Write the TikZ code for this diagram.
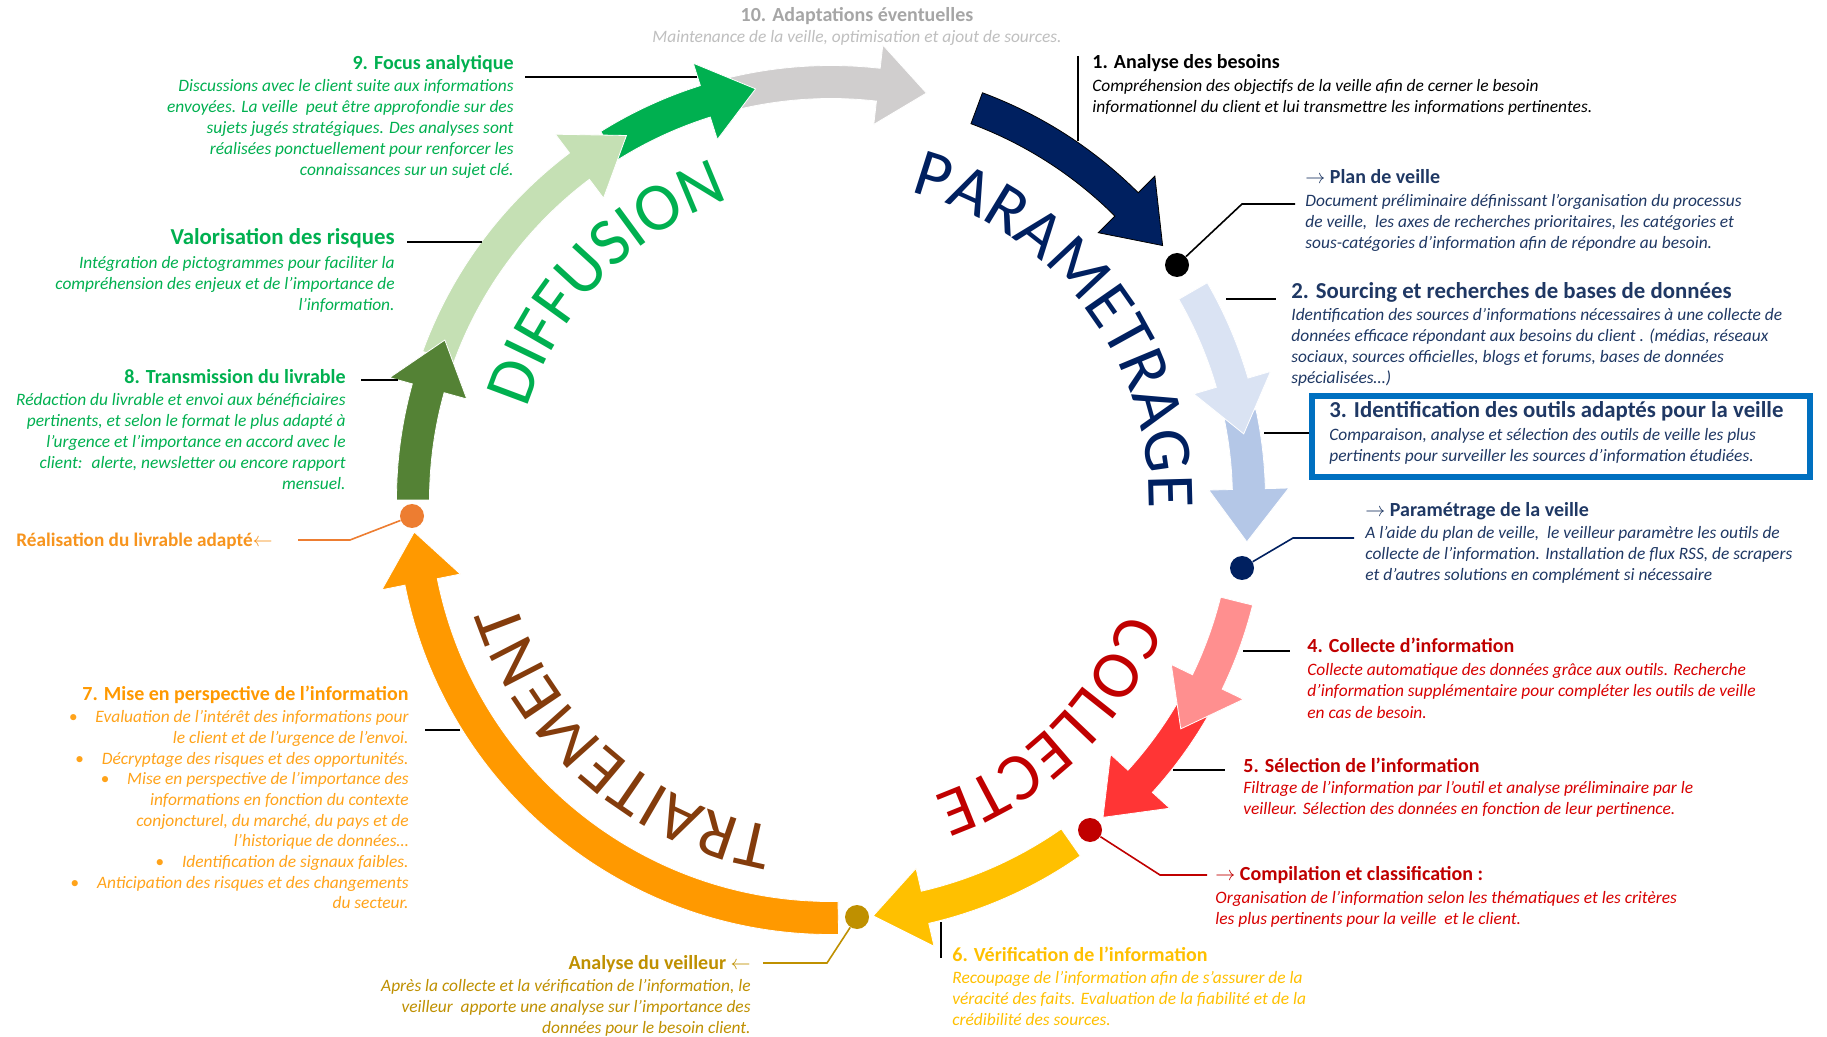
\documentclass[tikz,border=0pt]{standalone}
\usepackage{fontspec}
\setmainfont{Carlito}
\usetikzlibrary{decorations.text}

\definecolor{parnavy}{HTML}{002060}
\definecolor{parlight}{HTML}{DAE3F3}
\definecolor{parmid}{HTML}{B4C7E7}
\definecolor{colpink}{HTML}{FF8F8F}
\definecolor{colred}{HTML}{FF3535}
\definecolor{colyellow}{HTML}{FFC000}
\definecolor{traorange}{HTML}{FF9900}
\definecolor{difdark}{HTML}{548235}
\definecolor{diflight}{HTML}{C5E0B4}
\definecolor{difgreen}{HTML}{00B050}
\definecolor{adagray}{HTML}{D0CECE}
\definecolor{wordbrown}{HTML}{843C0C}
\definecolor{wordred}{HTML}{C00000}
\definecolor{txtnavy}{HTML}{1F3864}
\definecolor{txtred}{HTML}{C00000}
\definecolor{txtredlt}{HTML}{D80000}
\definecolor{txtgold}{HTML}{BF9000}
\definecolor{txtyellow}{HTML}{FFC000}
\definecolor{txtorange}{HTML}{FF9900}
\definecolor{txtorangelt}{HTML}{FFA31A}
\definecolor{txtreal}{HTML}{F7941D}
\definecolor{dotorange}{HTML}{ED7D31}
\definecolor{txtgreen}{HTML}{00B050}
\definecolor{txtgray}{HTML}{A6A6A6}
\definecolor{txtgraylt}{HTML}{BFBFBF}
\definecolor{boxblue}{HTML}{0070C0}

\newcommand\bodyfont{\fontsize{8.7}{10.5}\selectfont\itshape}
\newcommand\headfont{\fontsize{10}{12}\selectfont\bfseries}
\newcommand\bigheadfont{\fontsize{11.4}{13}\selectfont\bfseries}
\newcommand\wordfont{\fontsize{34}{34}\selectfont}

\tikzset{
  pics/ringarrow/.style args={#1/#2/#3}{code={%
      % shaft along the ring, then the head
      \filldraw (#1:434.5) arc[start angle=#1, end angle=#2, radius=434.5]
        -- (#2:458) -- (#3:418) -- (#2:378) -- (#2:401.5)
        arc[start angle=#2, end angle=#1, radius=401.5] -- cycle;
  }},
  ringdot/.style={circle, inner sep=0pt, minimum size=12pt},
  leader/.style={line width=0.8pt},
  wordpath/.style={decorate, decoration={text along path, text align=center}},
  itemhead/.style={font=\headfont, inner sep=0pt},
  bighead/.style={font=\bigheadfont, inner sep=0pt},
  itembody/.style={font=\bodyfont, inner sep=0pt},
}

\begin{document}
\begin{tikzpicture}[x=0.5pt, y=-0.5pt]
    \useasboundingbox (0,0) rectangle (1827,1037);
    \fill[white] (0,0) rectangle (1827,1037);

    % centre of the cycle
    \coordinate (cc) at (831,500);

    % arrows of the cycle (angles go clockwise on the page)
    \pic[fill=adagray, draw=white] at (cc) {ringarrow={256/276.5/283.2}};
    \pic[fill=difgreen, draw=white] at (cc) {ringarrow={238/252.5/259.6}};
    \pic[fill=diflight, draw=white] at (cc) {ringarrow={200/233/240.7}};
    \pic[fill=difdark, draw=white] at (cc) {ringarrow={180/195.5/202.5}};
    \pic[fill=traorange, draw=white] at (cc) {ringarrow={89/168.7/175.6}};
    \pic[fill=colyellow, draw=white] at (cc) {ringarrow={55/77/84.2}};
    \pic[fill=colred, draw=white] at (cc) {ringarrow={30/42.3/49.4}};
    \pic[fill=colpink, draw=white] at (cc) {ringarrow={14/25.8/33.2}};
    \pic[fill=parmid, draw=white] at (cc) {ringarrow={-12/-1.5/5.75}};
    \pic[fill=parlight, draw=white] at (cc) {ringarrow={-30/-16.3/-9.1}};
    \pic[fill=parnavy, draw=black] at (cc) {ringarrow={-69.6/-45/-37.5}};

    % the four phases
    \path[wordpath, decoration={text={|\wordfont\color{parnavy}|PARAMETRAGE}}] ([shift={(-97:318)}]cc) arc[start angle=-97, end angle=23, radius=318];
    \path[wordpath, decoration={text={|\wordfont\color{wordred}|COLLECTE}}] ([shift={(-14:314)}]cc) arc[start angle=-14, end angle=106, radius=314];
    \path[wordpath, decoration={text={|\wordfont\color{wordbrown}|TRAITEMENT}}] ([shift={(71:332)}]cc) arc[start angle=71, end angle=191, radius=332];
    \path[wordpath, decoration={text={|\wordfont\color{difgreen}|DIFFUSION}}] ([shift={(164:317)}]cc) arc[start angle=164, end angle=284, radius=317];

    % milestones on the ring
    \node[ringdot, fill=black] (dplan) at (1177,265) {};
    \node[ringdot, fill=parnavy] (dparam) at (1242,568) {};
    \node[ringdot, fill=txtred] (dcomp) at (1090,830) {};
    \node[ringdot, fill=txtgold] (dana) at (857,917) {};
    \node[ringdot, fill=dotorange] (dreal) at (412,516) {};

    % leader lines
    \coordinate (l1a) at (1078,56);   \coordinate (l1b) at (1078,141);
    \coordinate (kplan) at (1242,204); \coordinate (eplan) at (1295,204);
    \coordinate (l2a) at (1226,299);  \coordinate (l2b) at (1276,299);
    \coordinate (l3a) at (1264,433);  \coordinate (l3b) at (1309,433);
    \coordinate (kparam) at (1293,538); \coordinate (eparam) at (1354,538);
    \coordinate (l4a) at (1243,651);  \coordinate (l4b) at (1290,651);
    \coordinate (l5a) at (1173,770);  \coordinate (l5b) at (1225,770);
    \coordinate (kcomp) at (1160,875); \coordinate (ecomp) at (1207,875);
    \coordinate (l6a) at (941,922);   \coordinate (l6b) at (941,958);
    \coordinate (kana) at (827,963);  \coordinate (eana) at (763,963);
    \coordinate (l7a) at (425,730);   \coordinate (l7b) at (460,730);
    \coordinate (kreal) at (350,540); \coordinate (ereal) at (298,540);
    \coordinate (l8a) at (361,380);   \coordinate (l8b) at (398,380);
    \coordinate (lva) at (407,242);   \coordinate (lvb) at (482,242);
    \coordinate (l9a) at (525,77);    \coordinate (l9b) at (697,77);
    \draw[leader] (l1a) -- (l1b);
    \draw[leader] (dplan) -- (kplan) -- (eplan);
    \draw[leader] (l2a) -- (l2b);
    \draw[leader] (l3a) -- (l3b);
    \draw[leader, parnavy] (dparam) -- (kparam) -- (eparam);
    \draw[leader] (l4a) -- (l4b);
    \draw[leader] (l5a) -- (l5b);
    \draw[leader, txtred] (dcomp) -- (kcomp) -- (ecomp);
    \draw[leader] (l6a) -- (l6b);
    \draw[leader, txtgold] (dana) -- (kana) -- (eana);
    \draw[leader] (l7a) -- (l7b);
    \draw[leader, dotorange] (dreal) -- (kreal) -- (ereal);
    \draw[leader] (l8a) -- (l8b);
    \draw[leader] (lva) -- (lvb);
    \draw[leader] (l9a) -- (l9b);

    % frame of step 3
    \coordinate (boxnw) at (1312,396);
    \coordinate (boxse) at (1810,477);
    \draw[boxblue, line width=3pt] (boxnw) rectangle (boxse);

    % add labels (body blocks sit on the baseline of their last line)
    \node[itemhead, txtgray, anchor=base] (t10) at (857,21.5) {10. Adaptations éventuelles};
    \node[itembody, txtgraylt, anchor=base] (b10) at (857,43) {Maintenance de la veille, optimisation et ajout de sources.};

    \node[itemhead, black, anchor=base west] (t1) at (1092,68.4) {1. Analyse des besoins};
    \node[itembody, black, anchor=base west, align=left] (b1) at (1092,112.2) {Compréhension des objectifs de la veille afin de cerner le besoin\\
      informationnel du client et lui transmettre les informations pertinentes.};

    \node[itemhead, txtnavy, anchor=base west] (tplan) at (1305,183.7) {$\rightarrow$ Plan de veille};
    \node[itembody, txtnavy, anchor=base west, align=left] (bplan) at (1305,248.5) {Document préliminaire définissant l’organisation du processus\\
      de veille,~ les axes de recherches prioritaires, les catégories et\\
      sous-catégories d’information afin de répondre au besoin.};

    \node[bighead, txtnavy, anchor=base west] (t2) at (1291,298.7) {2. Sourcing et recherches de bases de données};
    \node[itembody, txtnavy, anchor=base west, align=left] (b2) at (1291,383.7) {Identification des sources d’informations nécessaires à une collecte de\\
      données efficace répondant aux besoins du client . (médias, réseaux\\
      sociaux, sources officielles, blogs et forums, bases de données\\
      spécialisées…)};

    \node[bighead, txtnavy, anchor=base west] (t3) at (1329,417.5) {3. Identification des outils adaptés pour la veille};
    \node[itembody, txtnavy, anchor=base west, align=left] (b3) at (1329,461.7) {Comparaison, analyse et sélection des outils de veille les plus\\
      pertinents pour surveiller les sources d'information étudiées.};

    \node[itemhead, txtnavy, anchor=base west] (tparam) at (1365,517) {$\rightarrow$ Paramétrage de la veille};
    \node[itembody, txtnavy, anchor=base west, align=left] (bparam) at (1365,580.6) {A l'aide du plan de veille,~ le veilleur paramètre les outils de\\
      collecte de l’information. Installation de flux RSS, de scrapers\\
      et d’autres solutions en complément si nécessaire};

    \node[itemhead, txtred, anchor=base west] (t4) at (1307,653) {4. Collecte d’information};
    \node[itembody, txtredlt, anchor=base west, align=left] (b4) at (1307,718) {Collecte automatique des données grâce aux outils. Recherche\\
      d’information supplémentaire pour compléter les outils de veille\\
      en cas de besoin.};

    \node[itemhead, txtred, anchor=base west] (t5) at (1243,772) {5. Sélection de l’information};
    \node[itembody, txtredlt, anchor=base west, align=left] (b5) at (1243,814.7) {Filtrage de l’information par l’outil et analyse préliminaire par le\\
      veilleur. Sélection des données en fonction de leur pertinence.};

    \node[itemhead, txtred, anchor=base west] (tcomp) at (1215,880.5) {$\rightarrow$ Compilation et classification :};
    \node[itembody, txtredlt, anchor=base west, align=left] (bcomp) at (1215,924.2) {Organisation de l’information selon les thématiques et les critères\\
      les plus pertinents pour la veille~ et le client.};

    \node[itemhead, txtyellow, anchor=base west] (t6) at (952,961) {6. Vérification de l’information};
    \node[itembody, txtyellow, anchor=base west, align=left] (b6) at (952,1025.6) {Recoupage de l’information afin de s’assurer de la\\
      véracité des faits. Evaluation de la fiabilité et de la\\
      crédibilité des sources.};

    \node[itemhead, txtgold, anchor=base east] (tana) at (751,969) {Analyse du veilleur $\leftarrow$};
    \node[itembody, txtgold, anchor=base east, align=right] (bana) at (751,1033.8) {Après la collecte et la vérification de l’information, le\\
      veilleur~ apporte une analyse sur l’importance des\\
      données pour le besoin client.};

    \node[itemhead, txtorange, anchor=base east] (t7) at (409,700) {7. Mise en perspective de l’information};
    \node[itembody, txtorangelt, anchor=base east, align=right, font=\fontsize{8.7}{10.35}\selectfont\itshape] (b7) at (409,908.9) {•\hspace{9pt}Evaluation de l’intérêt des informations pour\\
      le client et de l’urgence de l’envoi.\\
      •\hspace{9pt}Décryptage des risques et des opportunités.\\
      •\hspace{9pt}Mise en perspective de l’importance des\\
      informations en fonction du contexte\\
      conjoncturel, du marché, du pays et de\\
      l’historique de données…\\
      •\hspace{9pt}Identification de signaux faibles.\\
      •\hspace{9pt}Anticipation des risques et des changements\\
      du secteur.};

    \node[itemhead, txtreal, anchor=base west, font=\fontsize{9.6}{11}\selectfont\bfseries] (treal) at (16,546) {Réalisation du livrable adapté$\leftarrow$};

    \node[itemhead, txtgreen, anchor=base east] (t8) at (346,384) {8. Transmission du livrable};
    \node[itembody, txtgreen, anchor=base east, align=right] (b8) at (346,489.8) {Rédaction du livrable et envoi aux bénéficiaires\\
      pertinents, et selon le format le plus adapté à\\
      l’urgence et l’importance en accord avec le\\
      client:~ alerte, newsletter ou encore rapport\\
      mensuel.};

    \node[bighead, txtgreen, anchor=base east] (tval) at (395,245) {Valorisation des risques};
    \node[itembody, txtgreen, anchor=base east, align=right] (bval) at (395,310.3) {Intégration de pictogrammes pour faciliter la\\
      compréhension des enjeux et de l’importance de\\
      l’information.};

    \node[itemhead, txtgreen, anchor=base east] (t9) at (514,69.6) {9. Focus analytique};
    \node[itembody, txtgreen, anchor=base east, align=right] (b9) at (514,175.2) {Discussions avec le client suite aux informations\\
      envoyées. La veille~ peut être approfondie sur des\\
      sujets jugés stratégiques. Des analyses sont\\
      réalisées ponctuellement pour renforcer les\\
      connaissances sur un sujet clé.};
\end{tikzpicture}
\end{document}
